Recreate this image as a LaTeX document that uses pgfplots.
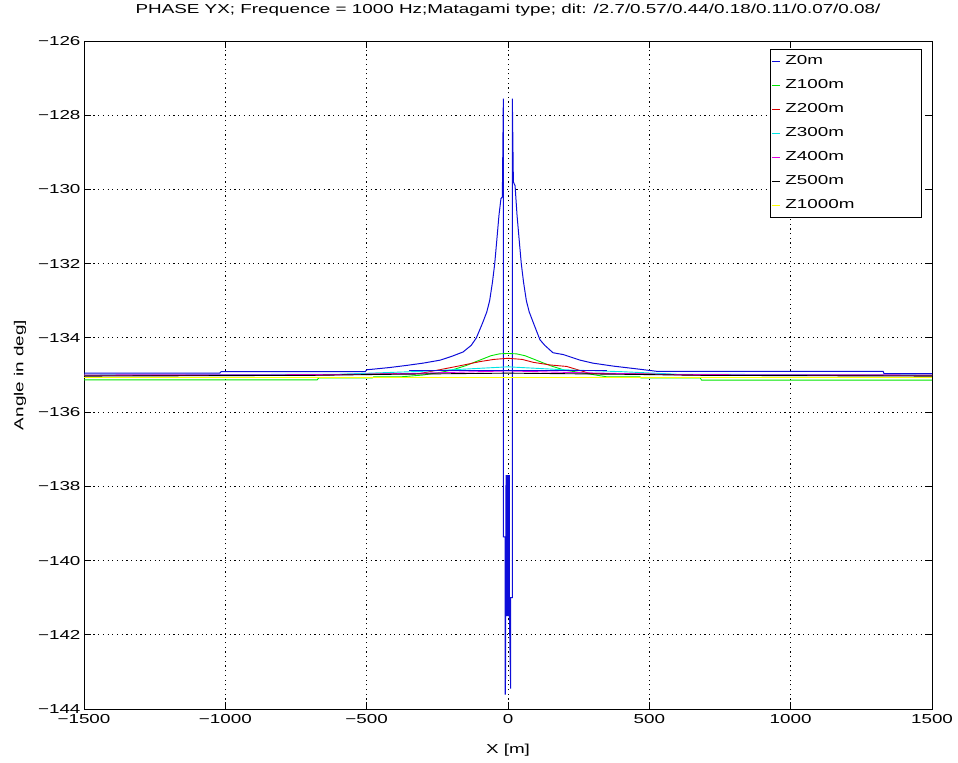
\documentclass[border=0pt]{standalone}
\usepackage{fontspec}
\setmainfont{Liberation Sans}[FakeStretch=1.45]
\usepackage{pgfplots}
\pgfplotsset{compat=1.18}
\definecolor{mblue}{rgb}{0.05,0.05,0.85}
\definecolor{mgreen}{rgb}{0,0.9,0}
\definecolor{mred}{rgb}{0.85,0,0}
\definecolor{mcyan}{rgb}{0,0.9,0.9}
\definecolor{mmag}{rgb}{0.9,0,0.9}
\definecolor{myellow}{rgb}{1,1,0}
\begin{document}
\begin{tikzpicture}[font=\fontsize{13bp}{15.6bp}\selectfont]
\path[use as bounding box] (0bp,0bp) rectangle (958bp,763bp);
\begin{axis}[
  at={(84bp,54bp)}, anchor=south west,
  scale only axis, width=848bp, height=668bp,
  xmin=-1500, xmax=1500, ymin=-144, ymax=-126,
  xtick={-1500,-1000,-500,0,500,1000,1500},
  xticklabels={−1500,−1000,−500,0,500,1000,1500},
  ytick={-144,-142,-140,-138,-136,-134,-132,-130,-128,-126},
  yticklabels={−144,−142,−140,−138,−136,−134,−132,−130,−128,−126},
  grid=major,
  grid style={black, line width=0.9bp, dash pattern=on 1.2bp off 3.5bp},
  axis line style={line width=0.9bp, black},
  tick align=inside, major tick length=7bp,
  tick style={black, line width=0.8bp},
  xticklabel style={anchor=base, yshift=-14bp},
  yticklabel style={anchor=east},
  title={PHASE YX; Frequence =  1000 Hz;Matagami type; dit: /2.7/0.57/0.44/0.18/0.11/0.07/0.08/},
  title style={at={(axis description cs:0.5,1)}, anchor=base, yshift=21.5bp},
  xlabel={X [m]},
  every axis x label/.style={at={(axis description cs:0.5,0)}, anchor=base, yshift=-44bp},
  ylabel={Angle in deg]},
  every axis y label/.style={at={(axis description cs:0,0.5)}, anchor=center, xshift=-64bp, rotate=90},
  legend cell align=left,
  legend style={at={(0.988,0.988)}, anchor=north east, draw=black, line width=0.8bp,
    inner xsep=1bp, inner ysep=6bp, row sep=12bp,
    nodes={inner sep=0pt, text height=9bp, text depth=3bp, anchor=west},
    /tikz/every odd column/.append style={column sep=5bp}},
  legend image code/.code={\draw[#1, line width=1.3bp] (0bp,0bp) -- (8bp,0bp);},
  every axis plot/.append style={line width=0.9bp},
]
% Z0m
\addplot[draw=mblue, line width=1bp] coordinates {
(-1500,-134.95) (-1020,-134.95) (-1015,-134.91) (-505,-134.91) (-500,-134.86)
(-420,-134.80) (-357,-134.74) (-300,-134.68) (-240,-134.60) (-200,-134.50)
(-159,-134.38) (-130,-134.20) (-112,-134.00) (-90,-133.60) (-75,-133.30)
(-65,-133.00) (-55,-132.50) (-47,-132.00) (-40,-131.40) (-32,-130.70)
(-25,-130.25) (-20,-130.20) (-16.5,-127.55) (-16.5,-139.36) (-10.6,-139.36)
(-10.6,-143.60) (-9,-143.60) (-7,-137.70) (-5,-141.50) (-3,-137.70)
(-1,-141.50) (1,-137.70) (3,-141.50) (5,-137.70) (5,-141.50)
(9.4,-143.45) (9.4,-141.00) (15.3,-141.00) (15.3,-127.55) (19,-129.80)
(25,-129.90) (32,-130.70) (40,-131.40) (47,-132.00) (55,-132.50)
(65,-133.00) (75,-133.30) (90,-133.60) (113,-134.05) (130,-134.20)
(159,-134.40) (196,-134.45) (255,-134.60) (300,-134.68) (372,-134.76)
(450,-134.83) (525,-134.90) (1327,-134.90) (1330,-134.96) (1500,-134.96)
};
\addlegendentry{\makebox[135bp][l]{Z0m}}
% Z100m
\addplot[draw=mgreen] coordinates {
(-1500,-135.13) (-675,-135.13) (-670,-135.08) (-480,-135.08) (-475,-135.05)
(-380,-135.05) (-300,-135.00) (-240,-134.93) (-200,-134.87) (-150,-134.75)
(-100,-134.60) (-60,-134.48) (-30,-134.43) (0,-134.42) (30,-134.43)
(60,-134.48) (100,-134.60) (150,-134.75) (184,-134.83) (200,-134.87)
(270,-134.95) (350,-135.05) (467,-135.05) (470,-135.08) (680,-135.08)
(685,-135.14) (1500,-135.14)
};
\addlegendentry{\makebox[135bp][l]{Z100m}}
% Z200m
\addplot[draw=mred] coordinates {
(-1500,-135.01) (-912,-135.01) (-658,-135.00) (-500,-134.97) (-311,-134.96)
(-216,-134.82) (-150,-134.72) (-100,-134.64) (-50,-134.58) (0,-134.55)
(50,-134.58) (90,-134.66) (150,-134.73) (208,-134.77) (290,-134.96)
(502,-134.97) (643,-135.00) (916,-135.01) (1500,-135.01)
};
\addlegendentry{\makebox[135bp][l]{Z200m}}
% Z300m
\addplot[draw=mcyan] coordinates {
(-1500,-135.00) (-600,-134.98) (-300,-134.90) (-200,-134.86) (-100,-134.82)
(0,-134.78) (100,-134.82) (200,-134.86) (400,-134.91) (600,-134.98) (1500,-135.00)
};
\addlegendentry{\makebox[135bp][l]{Z300m}}
% Z400m
\addplot[draw=mmag] coordinates {
(-1500,-135.00) (-600,-134.99) (-350,-134.96) (-150,-134.92) (0,-134.89)
(150,-134.92) (330,-134.95) (600,-134.99) (1500,-135.00)
};
\addlegendentry{\makebox[135bp][l]{Z400m}}
% Z500m
\addplot[draw=black] coordinates {
(-1500,-135.03) (-700,-135.01) (-400,-134.98) (0,-134.95) (400,-134.98)
(700,-135.01) (1500,-135.03)
};
\addlegendentry{\makebox[135bp][l]{Z500m}}
% Z1000m
\addplot[draw=myellow] coordinates {
(-1500,-135.07) (0,-135.07) (1500,-135.07)
};
\addlegendentry{\makebox[135bp][l]{Z1000m}}
% unlabeled flat blue trace near the centre
\addplot[draw=mblue, forget plot] coordinates {
(-350,-134.88) (0,-134.88) (350,-134.88)
};
\end{axis}
\end{tikzpicture}
\end{document}
